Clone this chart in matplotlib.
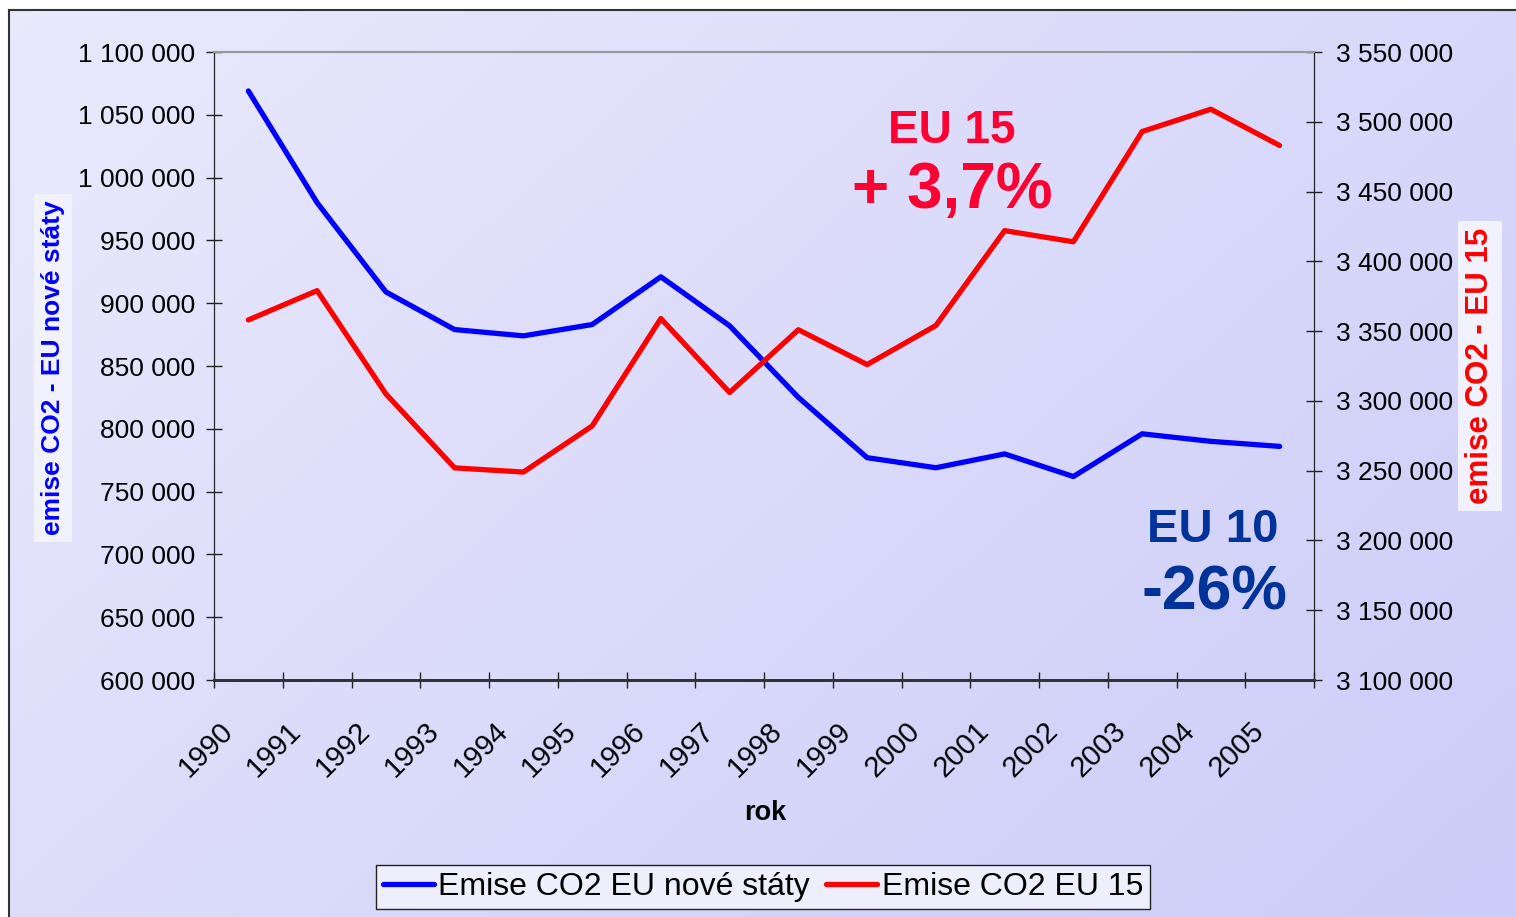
import numpy as np
import matplotlib
matplotlib.use("Agg")
import matplotlib.pyplot as plt
import matplotlib.transforms as mtransforms
from matplotlib.ticker import FuncFormatter

plt.rcParams['font.family'] = ['Liberation Sans', 'DejaVu Sans']

# data
years = [str(y) for y in range(1990, 2006)]
eu_new = [1069000, 980000, 909000, 879000, 874000, 883000, 921000, 882000,
          825000, 777000, 769000, 780000, 762000, 796000, 790000, 786000]
eu_15 = [3358000, 3379000, 3305000, 3252000, 3249000, 3282000, 3359000, 3306000,
         3351000, 3326000, 3354000, 3422000, 3414000, 3493000, 3509000, 3483000]
left_lim = (600000, 1100000)
right_lim = (3100000, 3550000)
left_label = "emise CO2 - EU nové státy"
right_label = "emise CO2 - EU 15"
legend_labels = ["Emise CO2 EU nové státy", "Emise CO2 EU 15"]

W, H = 1516, 917
fig = plt.figure(figsize=(W / 100, H / 100), dpi=100)
fig.patch.set_facecolor("white")

# gradient background with border (chart area)
bg = fig.add_axes([9 / W, 0, 1 - 9 / W, 1 - 10 / H])
gx, gy = np.meshgrid(np.linspace(0, 1, 300), np.linspace(0, 1, 200))
t = (gx * 0.6 + gy * 0.4)
c0 = np.array([0.915, 0.915, 0.99])
c1 = np.array([0.80, 0.80, 0.975])
img = c0[None, None, :] * (1 - t[..., None]) + c1[None, None, :] * t[..., None]
bg.imshow(img, aspect="auto", extent=[0, 1, 0, 1], origin="upper")
bg.set_xticks([])
bg.set_yticks([])
for s in ["right", "bottom"]:
    bg.spines[s].set_visible(False)
for s in ["left", "top"]:
    bg.spines[s].set_color("#333333")
    bg.spines[s].set_linewidth(1.5)

def fmt(v, pos=None):
    return "{:,.0f}".format(v).replace(",", " ")

ax = fig.add_axes([214 / W, 1 - 680 / H, 1100 / W, 628 / H])
ax.patch.set_alpha(0)
x = np.arange(len(years))
l1, = ax.plot(x, eu_new, color="#0000ff", lw=3.8, solid_joinstyle="round",
              solid_capstyle="round", zorder=3)
ax.set_xlim(-0.5, len(years) - 0.5)
ax.set_ylim(*left_lim)
ax.set_yticks(np.arange(left_lim[0], left_lim[1] + 1, 50000))
ax.yaxis.set_major_formatter(FuncFormatter(fmt))

ax2 = ax.twinx()
l2, = ax2.plot(x, eu_15, color="#ff0000", lw=3.8, solid_joinstyle="round",
               solid_capstyle="round", zorder=3)
ax2.set_ylim(*right_lim)
ax2.set_yticks(np.arange(right_lim[0], right_lim[1] + 1, 50000))
ax2.yaxis.set_major_formatter(FuncFormatter(fmt))

# category boundaries as ticks, labels at the centres
ax.set_xticks(np.arange(-0.5, len(years), 1.0))
ax.set_xticklabels([])
ax.set_xticks(x, minor=True)
ax.set_xticklabels(years, minor=True, rotation=45, ha="right", va="top",
                   rotation_mode="anchor", fontsize=21)
ax.tick_params(axis="x", which="minor", length=0, pad=0)
off = mtransforms.ScaledTranslation(-30 / 100, -37 / 100, fig.dpi_scale_trans)
for lab in ax.get_xticklabels(minor=True):
    lab.set_transform(lab.get_transform() + off)

ax.tick_params(axis="x", which="major", direction="inout", length=11, width=1, color="#222222")
ax.tick_params(axis="y", direction="inout", length=11, width=1, color="#222222",
               labelsize=19, pad=8)
ax2.tick_params(axis="y", direction="inout", length=11, width=1, color="#222222",
                labelsize=19, pad=10)

for a in (ax, ax2):
    a.spines["top"].set_color("#999999")
    a.spines["top"].set_linewidth(1.5)
    a.spines["left"].set_color("#222222")
    a.spines["right"].set_color("#222222")
    a.spines["bottom"].set_color("#333333")
    a.spines["bottom"].set_linewidth(2)

# axis titles
fig.text(53 / W, 1 - 368 / H, left_label, rotation=90, ha="center", va="center",
         color="#0000ff", fontsize=19, fontweight="bold",
         bbox=dict(facecolor="#f2f2fe", edgecolor="none", pad=5))
fig.text(1480 / W, 1 - 366 / H, right_label, rotation=90, ha="center", va="center",
         color="#ff0000", fontsize=22.5, fontweight="bold",
         bbox=dict(facecolor="#f2f2fe", edgecolor="none", pad=5))
fig.text(765 / W, 1 - 813 / H, "rok", ha="center", va="center",
         fontsize=19.5, fontweight="bold", color="black")

# annotations
fig.text(952 / W, 1 - 143 / H, "EU 15", ha="center", va="baseline",
         color="#ff0033", fontsize=33, fontweight="bold")
fig.text(952 / W, 1 - 208 / H, "+ 3,7%", ha="center", va="baseline",
         color="#ff0033", fontsize=46, fontweight="bold")
fig.text(1213 / W, 1 - 542 / H, "EU 10", ha="center", va="baseline",
         color="#003399", fontsize=34, fontweight="bold")
fig.text(1214 / W, 1 - 610 / H, "-26%", ha="center", va="baseline",
         color="#003399", fontsize=45, fontweight="bold")

leg = fig.legend([l1, l2], legend_labels, loc="center",
                 bbox_to_anchor=(763 / W, 1 - 887 / H), ncol=2, fontsize=23,
                 frameon=True, fancybox=False, edgecolor="#222222",
                 facecolor="#eeeefc", framealpha=1, handlelength=1.6,
                 handletextpad=0.15, columnspacing=0.5, borderpad=0.22)
leg.get_frame().set_linewidth(1)

fig.savefig("out.png", dpi=100)
